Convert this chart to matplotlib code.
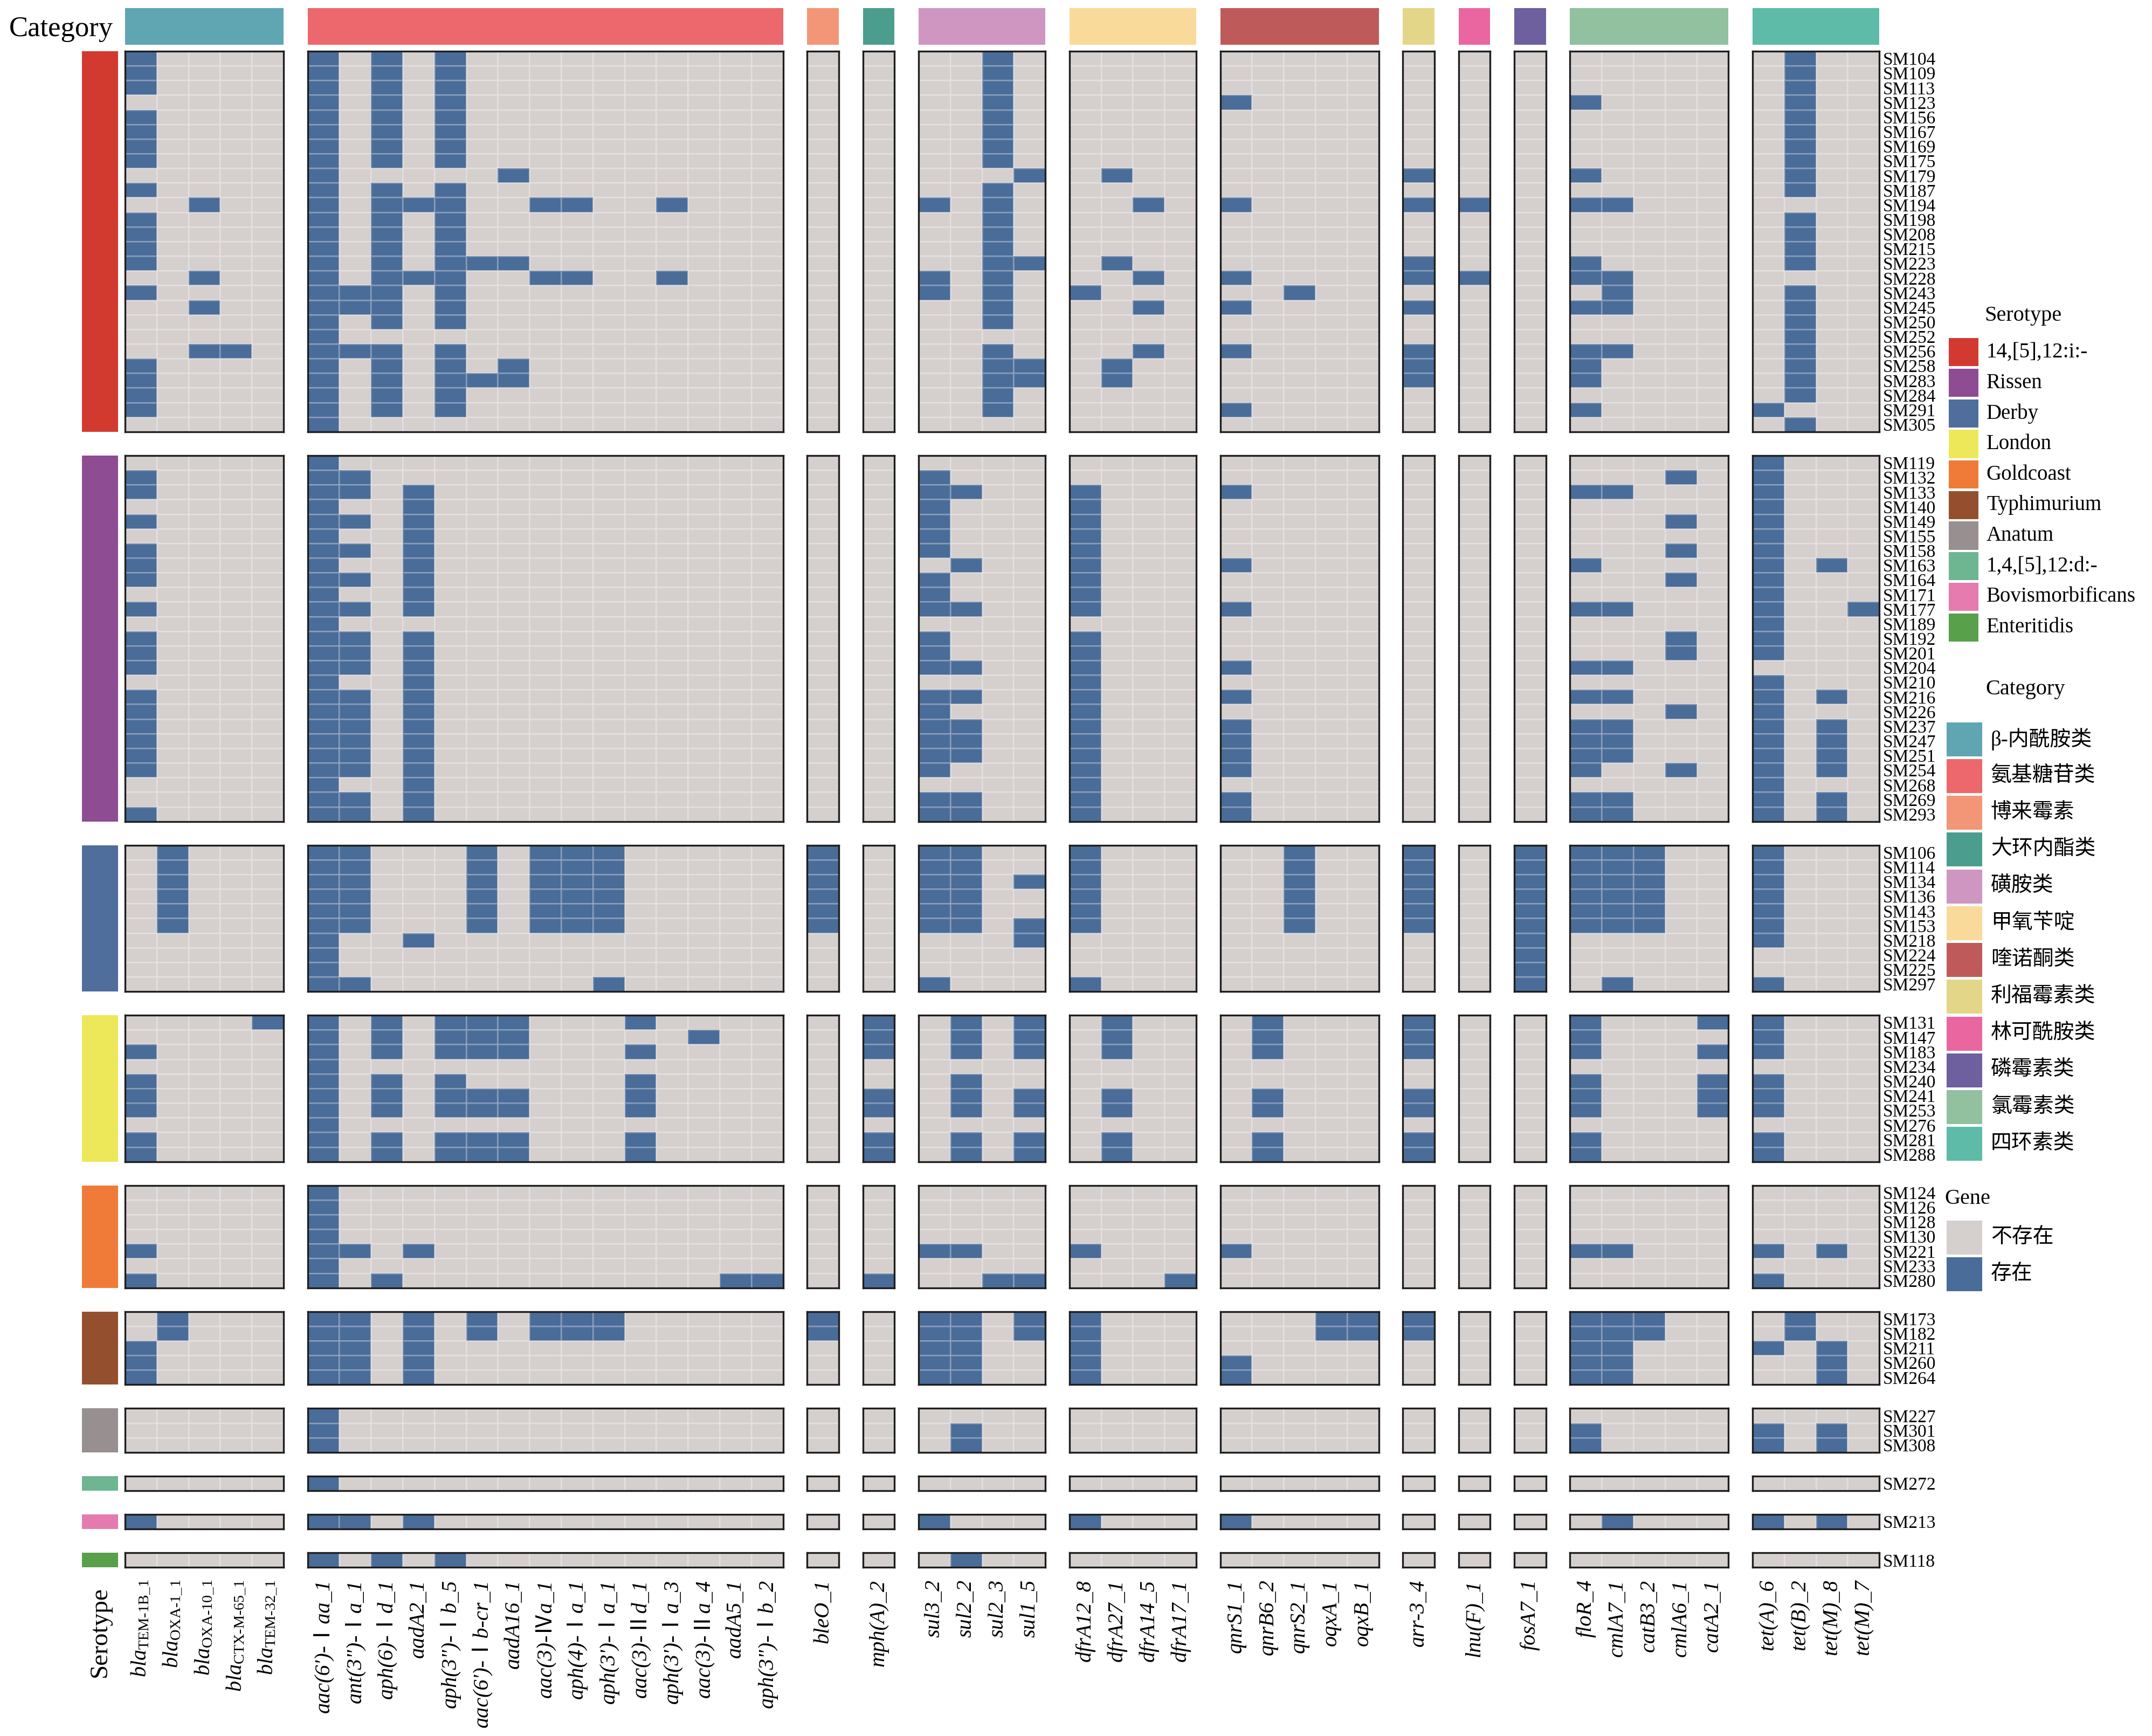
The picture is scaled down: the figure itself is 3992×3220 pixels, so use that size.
import numpy as np
import matplotlib
matplotlib.use("Agg")
import matplotlib.pyplot as plt
from matplotlib.colors import ListedColormap

plt.rcParams["font.family"] = ["Liberation Serif", "Noto Sans CJK SC"]
plt.rcParams["mathtext.fontset"] = "custom"
plt.rcParams["mathtext.rm"] = "Liberation Serif"
plt.rcParams["mathtext.it"] = "Liberation Serif:italic"
plt.rcParams["mathtext.bf"] = "Liberation Serif:bold"

# 1. DATA
cat_names = ["β-内酰胺类", "氨基糖苷类", "博来霉素", "大环内酯类", "磺胺类", "甲氧苄啶",
             "喹诺酮类", "利福霉素类", "林可酰胺类", "磷霉素类", "氯霉素类", "四环素类"]
cat_sizes = [5, 15, 1, 1, 4, 4, 5, 1, 1, 1, 5, 4]
cat_colors = ["#5FA5B2", "#EC686C", "#F39678", "#4B9E8D", "#CE96C0", "#F9DA9A",
              "#BF5A5A", "#E4D688", "#EA66A0", "#6E5F9E", "#91C19E", "#5EBBA8"]

gene_labels = [
    r"$\mathit{bla}_{\mathrm{TEM‐1B\_1}}$", r"$\mathit{bla}_{\mathrm{OXA‐1\_1}}$",
    r"$\mathit{bla}_{\mathrm{OXA‐10\_1}}$", r"$\mathit{bla}_{\mathrm{CTX‐M‐65\_1}}$",
    r"$\mathit{bla}_{\mathrm{TEM‐32\_1}}$",
    "aac(6')-Ⅰaa_1", "ant(3\")-Ⅰa_1", "aph(6)-Ⅰd_1", "aadA2_1", "aph(3\")-Ⅰb_5",
    "aac(6')-Ⅰb-cr_1", "aadA16_1", "aac(3)-Ⅳa_1", "aph(4)-Ⅰa_1", "aph(3')-Ⅰa_1",
    "aac(3)-Ⅱd_1", "aph(3')-Ⅰa_3", "aac(3)-Ⅱa_4", "aadA5_1", "aph(3\")-Ⅰb_2",
    "bleO_1", "mph(A)_2",
    "sul3_2", "sul2_2", "sul2_3", "sul1_5",
    "dfrA12_8", "dfrA27_1", "dfrA14_5", "dfrA17_1",
    "qnrS1_1", "qnrB6_2", "qnrS2_1", "oqxA_1", "oqxB_1",
    "arr-3_4", "lnu(F)_1", "fosA7_1",
    "floR_4", "cmlA7_1", "catB3_2", "cmlA6_1", "catA2_1",
    "tet(A)_6", "tet(B)_2", "tet(M)_8", "tet(M)_7",
]

sero_names = ["14,[5],12:i:-", "Rissen", "Derby", "London", "Goldcoast", "Typhimurium",
              "Anatum", "1,4,[5],12:d:-", "Bovismorbificans", "Enteritidis"]
sero_colors = ["#D23A30", "#8E4C93", "#4F6E9B", "#EDE85A", "#F07B38", "#94502E",
               "#989090", "#6EB592", "#E57BAE", "#58A04A"]

gene_states = ["不存在", "存在"]
gene_colors = ["#D5CFCE", "#4A6C98"]

# gene blocks: bla | aminoglycoside | bleO | mph | sul | dfr | qnr | arr | lnu | fos | chl | tet
samples_i = ["SM104", "SM109", "SM113", "SM123", "SM156", "SM167", "SM169", "SM175", "SM179",
             "SM187", "SM194", "SM198", "SM208", "SM215", "SM223", "SM228", "SM243", "SM245",
             "SM250", "SM252", "SM256", "SM258", "SM283", "SM284", "SM291", "SM305"]
profiles_i = [
    "10000 101010000000000 0 0 0010 0000 00000 0 0 0 00000 0100",
    "10000 101010000000000 0 0 0010 0000 00000 0 0 0 00000 0100",
    "10000 101010000000000 0 0 0010 0000 00000 0 0 0 00000 0100",
    "00000 101010000000000 0 0 0010 0000 10000 0 0 0 10000 0100",
    "10000 101010000000000 0 0 0010 0000 00000 0 0 0 00000 0100",
    "10000 101010000000000 0 0 0010 0000 00000 0 0 0 00000 0100",
    "10000 101010000000000 0 0 0010 0000 00000 0 0 0 00000 0100",
    "10000 101010000000000 0 0 0010 0000 00000 0 0 0 00000 0100",
    "00000 100000100000000 0 0 0001 0100 00000 1 0 0 10000 0100",
    "10000 101010000000000 0 0 0010 0000 00000 0 0 0 00000 0100",
    "00100 101110011001000 0 0 1010 0010 10000 1 1 0 11000 0000",
    "10000 101010000000000 0 0 0010 0000 00000 0 0 0 00000 0100",
    "10000 101010000000000 0 0 0010 0000 00000 0 0 0 00000 0100",
    "10000 101010000000000 0 0 0010 0000 00000 0 0 0 00000 0100",
    "10000 101011100000000 0 0 0011 0100 00000 1 0 0 10000 0100",
    "00100 101110011001000 0 0 1010 0010 10000 1 1 0 11000 0000",
    "10000 111010000000000 0 0 1010 1000 00100 0 0 0 01000 0100",
    "00100 111010000000000 0 0 0010 0010 10000 1 0 0 11000 0100",
    "00000 101010000000000 0 0 0010 0000 00000 0 0 0 00000 0100",
    "00000 100000000000000 0 0 0000 0000 00000 0 0 0 00000 0100",
    "00110 111010000000000 0 0 0010 0010 10000 1 0 0 11000 0100",
    "10000 101010100000000 0 0 0011 0100 00000 1 0 0 10000 0100",
    "10000 101011100000000 0 0 0011 0100 00000 1 0 0 10000 0100",
    "10000 101010000000000 0 0 0010 0000 00000 0 0 0 00000 0100",
    "10000 101010000000000 0 0 0010 0000 10000 0 0 0 10000 1000",
    "00000 100000000000000 0 0 0000 0000 00000 0 0 0 00000 0100",
]

samples_rissen = ["SM119", "SM132", "SM133", "SM140", "SM149", "SM155", "SM158", "SM163",
                  "SM164", "SM171", "SM177", "SM189", "SM192", "SM201", "SM204", "SM210",
                  "SM216", "SM226", "SM237", "SM247", "SM251", "SM254", "SM268", "SM269", "SM293"]
profiles_rissen = [
    "00000 100000000000000 0 0 0000 0000 00000 0 0 0 00000 1000",
    "10000 110000000000000 0 0 1000 0000 00000 0 0 0 00010 1000",
    "10000 110100000000000 0 0 1100 1000 10000 0 0 0 11000 1000",
    "00000 100100000000000 0 0 1000 1000 00000 0 0 0 00000 1000",
    "10000 110100000000000 0 0 1000 1000 00000 0 0 0 00010 1000",
    "00000 100100000000000 0 0 1000 1000 00000 0 0 0 00000 1000",
    "10000 110100000000000 0 0 1000 1000 00000 0 0 0 00010 1000",
    "10000 100100000000000 0 0 0100 1000 10000 0 0 0 10000 1010",
    "10000 110100000000000 0 0 1000 1000 00000 0 0 0 00010 1000",
    "00000 100100000000000 0 0 1000 1000 00000 0 0 0 00000 1000",
    "10000 110100000000000 0 0 1100 1000 10000 0 0 0 11000 1001",
    "00000 100000000000000 0 0 0000 0000 00000 0 0 0 00000 1000",
    "10000 110100000000000 0 0 1000 1000 00000 0 0 0 00010 1000",
    "10000 110100000000000 0 0 1000 1000 00000 0 0 0 00010 1000",
    "10000 110100000000000 0 0 1100 1000 10000 0 0 0 11000 0000",
    "00000 100100000000000 0 0 0000 1000 00000 0 0 0 00000 1000",
    "10000 110100000000000 0 0 1100 1000 10000 0 0 0 11000 1010",
    "10000 110100000000000 0 0 1000 1000 00000 0 0 0 00010 1000",
    "10000 110100000000000 0 0 1100 1000 10000 0 0 0 11000 1010",
    "10000 110100000000000 0 0 1100 1000 10000 0 0 0 11000 1010",
    "10000 110100000000000 0 0 1100 1000 10000 0 0 0 11000 1010",
    "10000 110100000000000 0 0 1000 1000 10000 0 0 0 10010 1010",
    "00000 100100000000000 0 0 0000 1000 00000 0 0 0 00000 1000",
    "00000 110100000000000 0 0 1100 1000 10000 0 0 0 11000 1010",
    "10000 110100000000000 0 0 1100 1000 10000 0 0 0 11000 1010",
]

samples_derby = ["SM106", "SM114", "SM134", "SM136", "SM143", "SM153", "SM218", "SM224",
                 "SM225", "SM297"]
profiles_derby = [
    "01000 110001011100000 1 0 1100 1000 00100 1 0 1 11100 1000",
    "01000 110001011100000 1 0 1100 1000 00100 1 0 1 11100 1000",
    "01000 110001011100000 1 0 1101 1000 00100 1 0 1 11100 1000",
    "01000 110001011100000 1 0 1100 1000 00100 1 0 1 11100 1000",
    "01000 110001011100000 1 0 1100 1000 00100 1 0 1 11100 1000",
    "01000 110001011100000 1 0 1101 1000 00100 1 0 1 11100 1000",
    "00000 100100000000000 0 0 0001 0000 00000 0 0 1 00000 1000",
    "00000 100000000000000 0 0 0000 0000 00000 0 0 1 00000 0000",
    "00000 100000000000000 0 0 0000 0000 00000 0 0 1 00000 0000",
    "00000 110000000100000 0 0 1000 1000 00000 0 0 1 01000 1000",
]

samples_london = ["SM131", "SM147", "SM183", "SM234", "SM240", "SM241", "SM253", "SM276",
                  "SM281", "SM288"]
profiles_london = [
    "00001 101011100010000 0 1 0101 0100 01000 1 0 0 10001 1000",
    "00000 101011100000100 0 1 0101 0100 01000 1 0 0 10000 1000",
    "10000 101011100010000 0 1 0101 0100 01000 1 0 0 10001 1000",
    "00000 100000000000000 0 0 0000 0000 00000 0 0 0 00000 0000",
    "10000 101010000010000 0 0 0100 0000 00000 0 0 0 10001 1000",
    "10000 101011100010000 0 1 0101 0100 01000 1 0 0 10001 1000",
    "10000 101011100010000 0 1 0101 0100 01000 1 0 0 10001 1000",
    "00000 100000000000000 0 0 0000 0000 00000 0 0 0 00000 0000",
    "10000 101011100010000 0 1 0101 0100 01000 1 0 0 10000 1000",
    "10000 101011100010000 0 1 0101 0100 01000 1 0 0 10000 1000",
]

samples_goldcoast = ["SM124", "SM126", "SM128", "SM130", "SM221", "SM233", "SM280"]
profiles_goldcoast = [
    "00000 100000000000000 0 0 0000 0000 00000 0 0 0 00000 0000",
    "00000 100000000000000 0 0 0000 0000 00000 0 0 0 00000 0000",
    "00000 100000000000000 0 0 0000 0000 00000 0 0 0 00000 0000",
    "00000 100000000000000 0 0 0000 0000 00000 0 0 0 00000 0000",
    "10000 110100000000000 0 0 1100 1000 10000 0 0 0 11000 1010",
    "00000 100000000000000 0 0 0000 0000 00000 0 0 0 00000 0000",
    "10000 101000000000011 0 1 0011 0001 00000 0 0 0 00000 1000",
]

samples_typhi = ["SM173", "SM182", "SM211", "SM260", "SM264"]
profiles_typhi = [
    "01000 110101011100000 1 0 1101 1000 00011 1 0 0 11100 0100",
    "01000 110101011100000 1 0 1101 1000 00011 1 0 0 11100 0100",
    "10000 110100000000000 0 0 1100 1000 00000 0 0 0 11000 1010",
    "10000 110100000000000 0 0 1100 1000 10000 0 0 0 11000 0010",
    "10000 110100000000000 0 0 1100 1000 10000 0 0 0 11000 0010",
]

samples_anatum = ["SM227", "SM301", "SM308"]
profiles_anatum = [
    "00000 100000000000000 0 0 0000 0000 00000 0 0 0 00000 0000",
    "00000 100000000000000 0 0 0100 0000 00000 0 0 0 10000 1010",
    "00000 100000000000000 0 0 0100 0000 00000 0 0 0 10000 1010",
]

samples_d = ["SM272"]
profiles_d = ["00000 100000000000000 0 0 0000 0000 00000 0 0 0 00000 0000"]

samples_bovis = ["SM213"]
profiles_bovis = ["10000 110100000000000 0 0 1000 1000 10000 0 0 0 01000 1010"]

samples_ent = ["SM118"]
profiles_ent = ["00000 101010000000000 0 0 0100 0000 00000 0 0 0 00000 0000"]

groups = [
    (samples_i, profiles_i), (samples_rissen, profiles_rissen),
    (samples_derby, profiles_derby), (samples_london, profiles_london),
    (samples_goldcoast, profiles_goldcoast), (samples_typhi, profiles_typhi),
    (samples_anatum, profiles_anatum), (samples_d, profiles_d),
    (samples_bovis, profiles_bovis), (samples_ent, profiles_ent),
]


def to_matrix(profiles):
    return np.array([[int(ch) for ch in p.replace(" ", "")] for p in profiles])


# 2. LAYOUT (pixels on a 3992 x 3220 canvas)
W, H = 3992, 3220
fig = plt.figure(figsize=(W / 100, H / 100), dpi=100)


def add_ax(left, top, width, height):
    return fig.add_axes([left / W, 1 - (top + height) / H, width / W, height / H])


cell_w, col_gap, x_start = 58.8, 44.6, 232
row_h, row_gap, y_start = 27.15, 44, 95

col_left = []
x = x_start
for n in cat_sizes:
    col_left.append(x)
    x += n * cell_w + col_gap

row_top = []
y = y_start
for samples, _ in groups:
    row_top.append(y)
    y += len(samples) * row_h + row_gap

gene_cmap = ListedColormap(gene_colors)
col_offsets = np.concatenate([[0], np.cumsum(cat_sizes)])

# 3. HEATMAP PANELS
for gi, (samples, profiles) in enumerate(groups):
    mat = to_matrix(profiles)
    nr = len(samples)
    for ci, n in enumerate(cat_sizes):
        ax = add_ax(col_left[ci], row_top[gi], n * cell_w, nr * row_h)
        sub = mat[:, col_offsets[ci]:col_offsets[ci + 1]]
        ax.pcolormesh(sub, cmap=gene_cmap, vmin=0, vmax=1,
                      edgecolors=(1, 1, 1, 0.25), linewidth=0.8)
        ax.set_xlim(0, n)
        ax.set_ylim(nr, 0)
        for sp in ax.spines.values():
            sp.set_linewidth(2.4)
            sp.set_color("#1e1e1e")
        ax.set_xticks([])
        ax.set_yticks([])
        if ci == len(cat_sizes) - 1:
            ax.yaxis.tick_right()
            ax.set_yticks(np.arange(nr) + 0.5)
            ax.set_yticklabels(samples, fontsize=24)
            ax.tick_params(axis="y", length=0, pad=5)
        if gi == len(groups) - 1:
            ax.set_xticks(np.arange(n) + 0.5)
            ax.set_xticklabels(gene_labels[col_offsets[ci]:col_offsets[ci + 1]],
                               rotation=90, fontsize=29, fontstyle="italic")
            ax.tick_params(axis="x", length=0, pad=16)

    # serotype annotation on the left
    ax = add_ax(152, row_top[gi], 67, nr * row_h)
    ax.pcolormesh(np.zeros((1, 1)), cmap=ListedColormap([sero_colors[gi]]))
    for sp in ax.spines.values():
        sp.set_visible(False)
    ax.set_xticks([])
    ax.set_yticks([])
    if gi == len(groups) - 1:
        ax.set_xticks([0.5])
        ax.set_xticklabels(["Serotype"], rotation=90, fontsize=34)
        ax.tick_params(axis="x", length=0, pad=26)

# 4. CATEGORY ANNOTATION ON TOP
for ci, n in enumerate(cat_sizes):
    ax = add_ax(col_left[ci], 15, n * cell_w, 68)
    ax.pcolormesh(np.zeros((1, 1)), cmap=ListedColormap([cat_colors[ci]]))
    for sp in ax.spines.values():
        sp.set_visible(False)
    ax.set_xticks([])
    ax.set_yticks([])
    if ci == 0:
        ax.set_yticks([0.5])
        ax.set_yticklabels(["Category"], fontsize=38)
        ax.tick_params(axis="y", length=0, pad=16)


# 5. LEGENDS
def legend_block(left, top, width, entry_h, names, colors, title, title_x, title_y,
                 label_x, fontsize):
    ax = add_ax(left, top, width, entry_h * len(names))
    pos = np.arange(len(names)) + 0.5
    ax.barh(pos, [1] * len(names), height=0.92, color=colors)
    ax.set_xlim(0, 1)
    ax.set_ylim(len(names), 0)
    ax.axis("off")
    ax.text(title_x, title_y, title, fontsize=29, ha="left", va="center", clip_on=False)
    for p, name in zip(pos, names):
        ax.text(label_x, p, name, fontsize=fontsize, ha="left", va="center", clip_on=False)


legend_block(3615, 625, 55, 56.7, sero_names, sero_colors, "Serotype", 1.2, -0.7, 1.27, 28)
legend_block(3611, 1337, 66, 68.25, cat_names, cat_colors, "Category", 1.1, -0.85, 1.24, 28)
legend_block(3611, 2261, 66, 68.5, gene_states, gene_colors, "Gene", -0.05, -0.55, 1.24, 28)

fig.savefig("out.png", dpi=100, facecolor="white")
